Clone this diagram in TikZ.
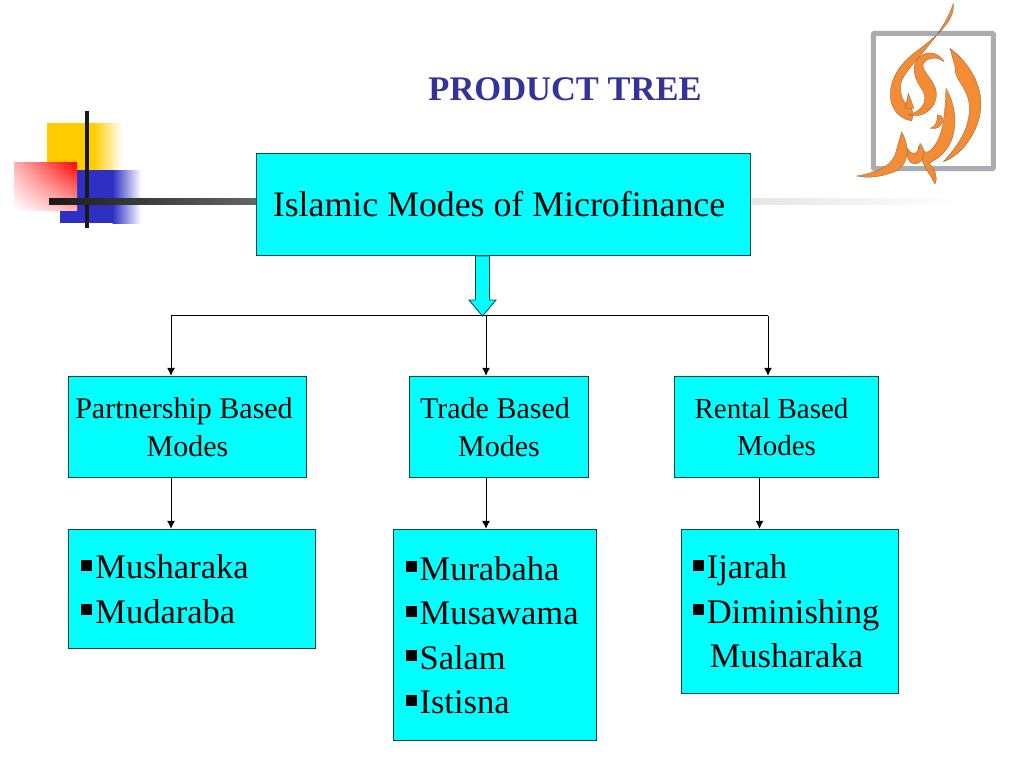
\documentclass[tikz,border=0pt]{standalone}
\usepackage{fontspec}
\setmainfont{Liberation Serif}
\usetikzlibrary{arrows.meta,shadings}
\definecolor{boxcyan}{RGB}{0,255,255}
\definecolor{boxedge}{RGB}{0,70,70}
\definecolor{titleblue}{RGB}{51,51,153}
\definecolor{squareyellow}{RGB}{255,204,0}
\definecolor{squareblue}{RGB}{45,48,195}
\definecolor{logoorange}{RGB}{243,140,52}
\definecolor{logoshade}{RGB}{120,90,70}
\definecolor{logogrey}{RGB}{170,172,176}
\newcommand{\sqmark}{\rule[8pt]{11pt}{11pt}\hspace{3pt}}
\tikzset{
  modebox/.style={draw=boxedge, line width=0.8pt, fill=boxcyan, inner sep=0pt, align=center, font=\fontsize{30}{37.5}\selectfont},
  listbox/.style={draw=boxedge, line width=0.8pt, fill=boxcyan, inner sep=0pt, align=left, font=\fontsize{34.5}{44.5}\selectfont},
  link/.style={draw=black, line width=1pt},
  linktip/.style={link, -{Latex[length=8pt,width=8pt]}},
  logostroke/.style={fill=logoorange, draw=logoshade, line width=0.25pt}
}
\begin{document}
\begin{tikzpicture}[x=1pt,y=-1pt]
  \useasboundingbox (0,0) rectangle (1024,768);
  % corner squares
  \fill [squareyellow] (47,123) rectangle (94,170);
  \shade [left color=squareyellow, right color=white] (93.5,123) rectangle (122,170);
  \fill [squareblue] (60,210) rectangle (113,223);
  \fill [squareblue] (77,170) rectangle (113,223);
  \shade [left color=squareblue, right color=white] (112.5,170) rectangle (141,223);
  \shade [upper right=red, upper left=red!30, lower right=red!30, lower left=white] (14,162) rectangle (77,210);
  \fill [color=black!90] (85,111) rectangle (89,228);
  \shade [left color=black!90, right color=black!60] (49,198) rectangle (257,204);
  \shade [left color=black!10, right color=white] (750,198) rectangle (962,204);
  % title
  \node (title) at (565,89) {\fontsize{34.5}{37}\selectfont\bfseries\color{titleblue}PRODUCT TREE};
  % boxes
  \node [modebox, minimum width=494.5pt, minimum height=102.5pt, font=\fontsize{35.8}{44}\selectfont] (main) at (503.5,204.5) {Islamic Modes of Microfinance\hspace*{9pt}};
  \node [modebox, minimum width=238.5pt, minimum height=101.5pt] (partner) at (187.5,427) {Partnership Based\hspace*{7pt}\\Modes};
  \node [modebox, minimum width=179.5pt, minimum height=101.5pt] (trade) at (499,427) {Trade Based\hspace*{8pt}\\Modes};
  \node [modebox, minimum width=204.5pt, minimum height=101.5pt, font=\fontsize{29}{37.5}\selectfont] (rental) at (776.5,427) {Rental Based\hspace*{10pt}\\Modes};
  \node [listbox, minimum width=247.5pt, minimum height=119.5pt] (partlist) at (192,589) {\sqmark Musharaka\hspace*{54pt}\\\sqmark Mudaraba};
  \node [listbox, minimum width=203.5pt, minimum height=211.5pt] (tradelist) at (495,635) {\sqmark Murabaha\hspace*{25pt}\\\sqmark Musawama\\\sqmark Salam\\\sqmark Istisna};
  \node [listbox, minimum width=217.5pt, minimum height=164.5pt] (rentlist) at (790,611.5) {\sqmark Ijarah\hspace*{100pt}\\\sqmark Diminishing\\\hspace*{17pt}Musharaka};
  % tree
  \coordinate (busleft) at (171,315.5);
  \coordinate (busmid) at (486,315.5);
  \coordinate (busright) at (768,315.5);
  \draw [link] (busleft) -- (busright);
  \draw [linktip] (busleft) -- (busleft |- partner.north);
  \draw [linktip] (busmid) -- (busmid |- trade.north);
  \draw [linktip] (busright) -- (busright |- rental.north);
  \draw [linktip] (busleft |- partner.south) -- (busleft |- partlist.north);
  \draw [linktip] (busmid |- trade.south) -- (busmid |- tradelist.north);
  \coordinate (rentdrop) at (759.5,478);
  \draw [linktip] (rentdrop) -- (rentdrop |- rentlist.north);
  \draw [fill=boxcyan, draw=boxedge, line width=0.8pt] (475.5,256) -- (489.5,256) -- (489.5,300) -- (496,300) -- (482.5,316) -- (469,300) -- (475.5,300) -- cycle;
  % logo
  \begin{scope}[shift={(840,0)}, x=0.3333pt, y=-0.3333pt]
    \fill [white] (97,97) rectangle (463,510);
    \draw [logogrey, line width=5pt, rounded corners=1pt] (100,100) rectangle (460,506);
    \path [logostroke] (340,10) .. controls (345,60) and (300,100) .. (235,150) .. controls (170,195) and (145,250) .. (152,300) .. controls (160,340) and (190,360) .. (215,362) .. controls (220,350) and (220,340) .. (215,325) .. controls (195,315) and (178,290) .. (182,255) .. controls (190,200) and (300,130) .. (340,10) -- cycle;
    \path [logostroke] (205,280) -- (222,325) -- (195,325) -- cycle;
    \path [logostroke] (225,190) .. controls (235,160) and (285,140) .. (312,185) .. controls (290,170) and (265,170) .. (250,190) .. controls (240,215) and (300,250) .. (288,295) .. controls (280,335) and (240,355) .. (205,345) .. controls (240,335) and (265,310) .. (250,275) .. controls (235,250) and (215,225) .. (225,190) -- cycle;
    \path [logostroke] (330,145) .. controls (390,190) and (430,260) .. (422,330) .. controls (415,400) and (360,470) .. (310,485) .. controls (350,440) and (390,390) .. (388,320) .. controls (385,260) and (340,240) .. (345,200) -- cycle;
    \path [logostroke] (318,265) .. controls (350,320) and (355,390) .. (325,440) .. controls (305,470) and (285,480) .. (268,490) .. controls (285,510) and (295,530) .. (285,552) .. controls (270,520) and (240,490) .. (235,440) .. controls (250,465) and (270,460) .. (285,435) .. controls (310,400) and (315,340) .. (318,265) -- cycle;
    \path [logostroke] (292,345) .. controls (310,342) and (315,365) .. (300,378) .. controls (290,387) and (280,387) .. (270,385) .. controls (285,378) and (292,372) .. (292,345) -- cycle;
    \path [logostroke] (185,395) .. controls (215,450) and (205,505) .. (150,520) .. controls (115,532) and (80,535) .. (50,528) .. controls (95,520) and (150,505) .. (165,465) .. controls (172,440) and (178,420) .. (185,395) -- cycle;
    \path [logostroke] (240,430) .. controls (262,450) and (250,492) .. (225,492) .. controls (205,492) and (198,470) .. (203,445) .. controls (215,470) and (235,465) .. (240,430) -- cycle;
  \end{scope}
\end{tikzpicture}
\end{document}
